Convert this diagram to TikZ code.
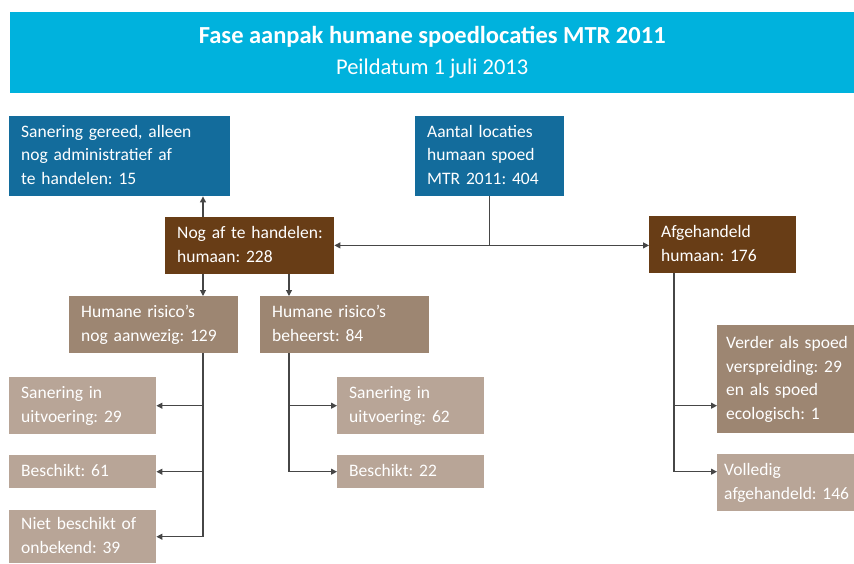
\documentclass[tikz,border=0pt]{standalone}
\usepackage{fontspec}
\setmainfont{Carlito}
\frenchspacing
\usetikzlibrary{arrows.meta, positioning, calc}
\definecolor{titlecyan}{RGB}{0, 178, 221}
\definecolor{boxblue}{RGB}{19, 108, 156}
\definecolor{boxdark}{RGB}{104, 61, 22}
\definecolor{boxmid}{RGB}{157, 134, 114}
\definecolor{boxlight}{RGB}{184, 165, 151}
\definecolor{linegray}{RGB}{70, 70, 70}
\newcommand{\boxlines}[1]{\begin{tabular}{@{}l@{}}#1\end{tabular}}
\tikzset{
  box/.style={anchor=north west, inner xsep=12pt, inner ysep=0pt, align=left,
    text=white, font=\fontsize{17.5}{23.5}\selectfont},
  bluebox/.style={box, fill=boxblue},
  darkbox/.style={box, fill=boxdark},
  midbox/.style={box, fill=boxmid},
  lightbox/.style={box, fill=boxlight},
  conn/.style={draw=linegray, line width=1.1pt},
  arr/.style={conn, -{Triangle[length=6pt, width=6pt]}}
}
\begin{document}
\begin{tikzpicture}[x=1pt, y=-1pt]
  \useasboundingbox (0,0) rectangle (854,563);

  % Title band
  \node[anchor=north west, fill=titlecyan, text=white, align=center, minimum width=844pt, minimum height=81pt,
    font=\fontsize{22.5}{31}\selectfont] (title) at (10,12)
    {{\fontsize{24.5}{31}\selectfont\bfseries Fase aanpak humane spoedlocaties MTR 2011}\\Peildatum 1 juli 2013};

  % Top level
  \node[bluebox, minimum width=221pt, minimum height=80pt, text width=197pt] (gereed) at (9,116)
    {\boxlines{Sanering gereed, alleen\\nog administratief af\\te handelen: 15}};
  \node[bluebox, minimum width=149pt, minimum height=80pt, text width=125pt] (aantal) at (415,116)
    {\boxlines{Aantal locaties\\humaan spoed\\MTR 2011: 404}};

  % Second level
  \node[darkbox, minimum width=169pt, minimum height=57pt, text width=145pt] (nogaf) at (165,217)
    {\boxlines{Nog af te handelen:\\humaan: 228}};
  \node[darkbox, minimum width=147pt, minimum height=57pt, text width=123pt] (afgeh) at (649,216)
    {\boxlines{Afgehandeld\\humaan: 176}};

  % Third level
  \node[midbox, minimum width=169pt, minimum height=57pt, text width=145pt] (aanwezig) at (69,296)
    {\boxlines{Humane risico’s\\nog aanwezig: 129}};
  \node[midbox, minimum width=169pt, minimum height=57pt, text width=145pt] (beheerst) at (260,296)
    {\boxlines{Humane risico’s\\beheerst: 84}};
  \node[midbox, minimum width=137pt, minimum height=108pt, inner xsep=9pt, text width=119pt] (verder) at (717,325)
    {\boxlines{Verder als spoed\\verspreiding: 29\\en als spoed\\ecologisch: 1}};

  % Leaves
  \node[lightbox, minimum width=147pt, minimum height=57pt, text width=123pt] (lsan) at (9,377)
    {\boxlines{Sanering in\\uitvoering: 29}};
  \node[lightbox, minimum width=147pt, minimum height=33pt, text width=123pt] (lbes) at (9,455)
    {\boxlines{Beschikt: 61}};
  \node[lightbox, minimum width=147pt, minimum height=53pt, text width=123pt] (lniet) at (9,510)
    {\boxlines{Niet beschikt of\\onbekend: 39}};
  \node[lightbox, minimum width=147pt, minimum height=57pt, text width=123pt] (rsan) at (337,377)
    {\boxlines{Sanering in\\uitvoering: 62}};
  \node[lightbox, minimum width=147pt, minimum height=33pt, text width=123pt] (rbes) at (337,455)
    {\boxlines{Beschikt: 22}};
  \node[lightbox, minimum width=137pt, minimum height=57pt, inner xsep=7pt, text width=123pt] (volledig) at (717,454)
    {\boxlines{Volledig\\afgehandeld: 146}};

  % Connectors from the top
  \coordinate (split) at ($(aantal.south)+(0,49)$);
  \draw[conn] (aantal.south) -- (split);
  \draw[arr] (split) -- (split -| nogaf.east);
  \draw[arr] (split) -- (split -| afgeh.west);

  % Nog af te handelen
  \coordinate (ltrunk) at ($(nogaf.north west)+(38,0)$);
  \coordinate (rtrunk) at ($(nogaf.north west)+(124,0)$);
  \draw[arr] (ltrunk) -- (ltrunk |- gereed.south);
  \draw[arr] (ltrunk |- nogaf.south) -- (ltrunk |- aanwezig.north);
  \draw[arr] (rtrunk |- nogaf.south) -- (rtrunk |- beheerst.north);

  % Humane risico's nog aanwezig
  \draw[conn] (ltrunk |- aanwezig.south) -- (ltrunk |- lniet.east);
  \draw[arr] (ltrunk |- lsan.east) -- (lsan.east);
  \draw[arr] (ltrunk |- lbes.east) -- (lbes.east);
  \draw[arr] (ltrunk |- lniet.east) -- (lniet.east);

  % Humane risico's beheerst
  \draw[conn] (rtrunk |- beheerst.south) -- (rtrunk |- rbes.west);
  \draw[arr] (rtrunk |- rsan.west) -- (rsan.west);
  \draw[arr] (rtrunk |- rbes.west) -- (rbes.west);

  % Afgehandeld
  \coordinate (atrunk) at ($(afgeh.south west)+(25,0)$);
  \draw[conn] (atrunk) -- (atrunk |- rbes.west);
  \draw[arr] (atrunk |- rsan.west) -- (verder.west |- rsan.west);
  \draw[arr] (atrunk |- rbes.west) -- (volledig.west |- rbes.west);
\end{tikzpicture}
\end{document}
